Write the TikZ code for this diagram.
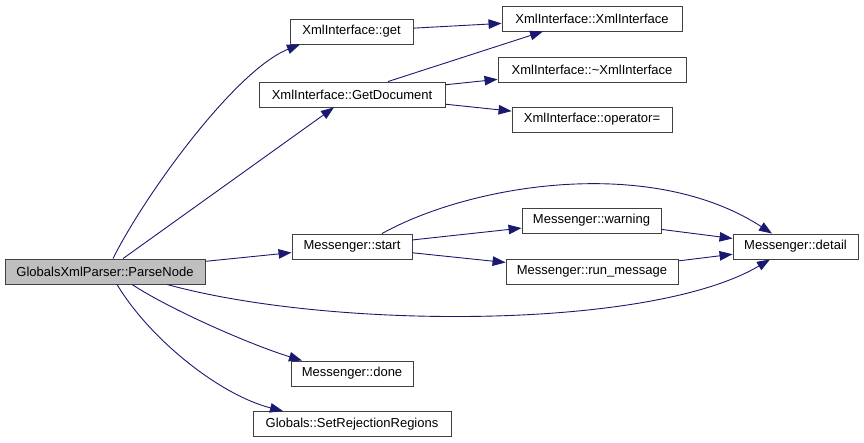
\documentclass[tikz,border=0pt]{standalone}
\usepackage{fontspec}
\setmainfont{Liberation Sans}
\usetikzlibrary{arrows.meta}

\definecolor{edgeblue}{HTML}{191970}
\definecolor{boxgray}{HTML}{404040}
\definecolor{fillgray}{HTML}{BFBFBF}

\begin{document}
\begin{tikzpicture}[x=1pt,y=-1pt,
	fn/.style={draw=boxgray, line width=0.9pt, fill=white, minimum height=25pt, inner sep=0pt,
		font=\fontsize{13}{15}\selectfont},
	call/.style={draw=edgeblue, line width=0.9pt, -{Triangle[length=13pt,width=9.5pt]}}]

\useasboundingbox (0,0) rectangle (864,443);

% Caller node
\node[fn, fill=fillgray, minimum width=200pt] (parse) at (105,271.5) {GlobalsXmlParser::ParseNode};

% XmlInterface functions
\node[fn, minimum width=123pt] (get) at (351.5,31.5) {XmlInterface::get};
\node[fn, minimum width=186pt] (getdoc) at (352,94.5) {XmlInterface::GetDocument};
\node[fn, minimum width=180pt] (xmlctor) at (592,18.5) {XmlInterface::XmlInterface};
\node[fn, minimum width=188pt] (xmldtor) at (592,69.5) {XmlInterface::\textasciitilde XmlInterface};
\node[fn, minimum width=160pt] (xmlop) at (592,119.5) {XmlInterface::operator=};

% Messenger functions
\node[fn, minimum width=120pt] (start) at (352,246.5) {Messenger::start};
\node[fn, minimum width=139pt] (warning) at (591.5,220.5) {Messenger::warning};
\node[fn, minimum width=172pt] (runmsg) at (592,271.5) {Messenger::run\_message};
\node[fn, minimum width=125pt] (detail) at (795.5,246.5) {Messenger::detail};
\node[fn, minimum width=122pt] (done) at (352,373.5) {Messenger::done};

\node[fn, minimum width=198pt] (rejection) at (352,424) {Globals::SetRejectionRegions};

% Calls from ParseNode
\draw[call] ([xshift=8pt]parse.north) .. controls +(32,-64) and +(-65,26) .. ([xshift=-51.5pt]get.south);
\draw[call] (parse) -- (getdoc);
\draw[call] (parse) -- (start);
\draw[call] ([xshift=62pt]parse.south) .. controls +(163,45) and +(-120,71) .. ([xshift=-25.5pt]detail.south);
\draw[call] ([xshift=27pt]parse.south) .. controls +(38,25) and +(-52,-16) .. ([xshift=-50pt]done.north);
\draw[call] ([xshift=12pt]parse.south) .. controls +(33,55) and +(-63,-16) .. ([xshift=-69pt]rejection.north);

% Calls inside XmlInterface
\draw[call] (get) -- (xmlctor);
\draw[call] ([xshift=36pt]getdoc.north) -- ([xshift=-49pt]xmlctor.south);
\draw[call] (getdoc) -- (xmldtor);
\draw[call] (getdoc) -- (xmlop);

% Calls inside Messenger
\draw[call] (start) -- (warning);
\draw[call] (start) -- (runmsg);
\draw[call] ([xshift=30pt]start.north) .. controls +(88,-49) and +(-122,-79) .. ([xshift=-23.5pt]detail.north);
\draw[call] (warning) -- (detail);
\draw[call] (runmsg) -- (detail);

\end{tikzpicture}
\end{document}
